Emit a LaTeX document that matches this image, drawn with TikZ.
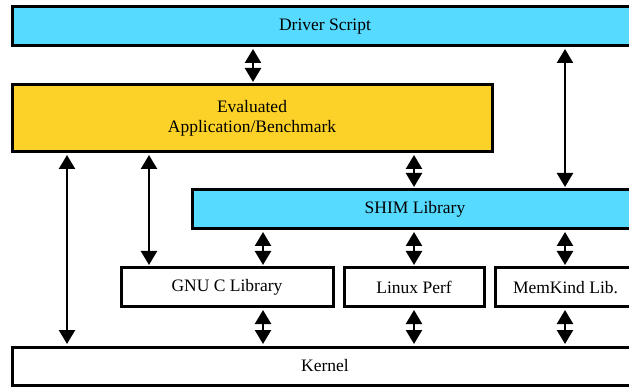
\documentclass[tikz,border=0pt]{standalone}
\usepackage{fontspec}
\setmainfont{Liberation Serif}
\usetikzlibrary{arrows.meta}
\definecolor{cyanbox}{RGB}{86,218,255}
\definecolor{yellowbox}{RGB}{252,210,40}
\begin{document}
\begin{tikzpicture}[x=1pt,y=1pt,
  box/.style={draw=black, line width=3pt, rectangle, inner sep=0pt, align=center,
    font=\fontsize{17.5}{20}\selectfont},
  dbl/.style={line width=2.4pt, {Triangle[width=16pt,length=14pt]}-{Triangle[width=16pt,length=14pt]}, shorten <=1.5pt, shorten >=1.5pt}]
\useasboundingbox (0,0) rectangle (629,-387);
\clip (0,0) rectangle (629,-387);
\fill[white] (0,0) rectangle (629,-387);
\node[box, fill=cyanbox, minimum width=626pt, minimum height=39pt] (driver) at (325,-26.5) {Driver Script};
\node[box, fill=yellowbox, minimum width=480pt, minimum height=67pt] (eval) at (252,-118.5) {Evaluated\\Application/Benchmark};
\node[box, fill=cyanbox, minimum width=446pt, minimum height=39pt] (shim) at (415,-209.5) {SHIM Library};
\node[box, fill=white, minimum width=212pt, minimum height=39pt] (gnu) at (227,-287.5) {GNU C Library};
\node[box, fill=white, minimum width=140pt, minimum height=39pt] (perf) at (414,-287.5) {Linux Perf};
\node[box, fill=white, minimum width=141pt, minimum height=39pt] (memk) at (565.5,-287.5) {MemKind Lib.};
\node[box, fill=white, minimum width=626pt, minimum height=38pt] (kernel) at (325,-366) {Kernel};
\coordinate (xa) at (253,0);
\coordinate (xb) at (565,0);
\coordinate (xc) at (414,0);
\coordinate (xd) at (67,0);
\coordinate (xe) at (149,0);
\coordinate (xf) at (263,0);
\coordinate (xg) at (414,0);
\coordinate (xh) at (565,0);
\draw[dbl] (driver.south -| xa) -- (eval.north -| xa);
\draw[dbl] (driver.south -| xb) -- (shim.north -| xb);
\draw[dbl] (eval.south -| xc) -- (shim.north -| xc);
\draw[dbl] (eval.south -| xd) -- (kernel.north -| xd);
\draw[dbl] (eval.south -| xe) -- (gnu.north -| xe);
\draw[dbl] (shim.south -| xf) -- (gnu.north -| xf);
\draw[dbl] (shim.south -| xg) -- (perf.north -| xg);
\draw[dbl] (shim.south -| xh) -- (memk.north -| xh);
\draw[dbl] (gnu.south -| xf) -- (kernel.north -| xf);
\draw[dbl] (perf.south -| xg) -- (kernel.north -| xg);
\draw[dbl] (memk.south -| xh) -- (kernel.north -| xh);
\end{tikzpicture}
\end{document}
